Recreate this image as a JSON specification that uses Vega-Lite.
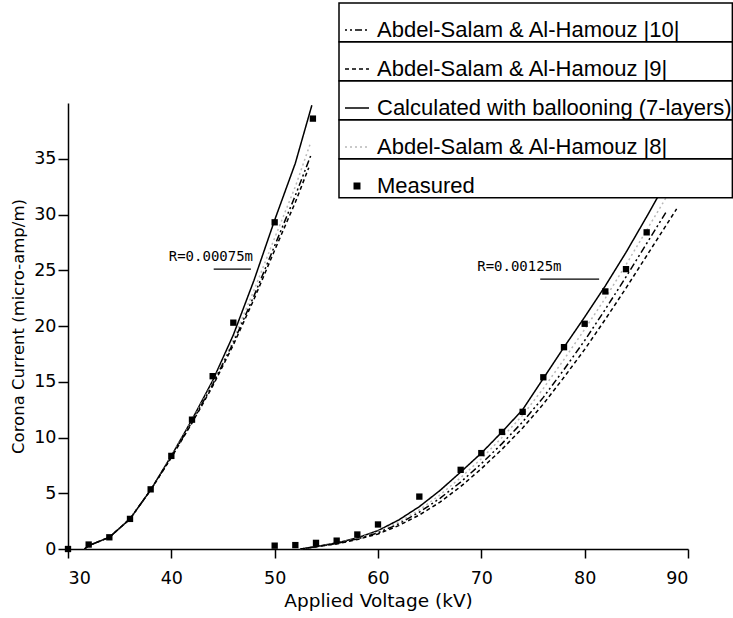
{
  "$schema": "https://vega.github.io/schema/vega-lite/v6.json",
  "width": 620,
  "height": 446,
  "autosize": "none",
  "padding": {"left": 68, "top": 103, "right": 45, "bottom": 69},
  "background": "white",
  "config": {
    "view": {"stroke": null},
    "axis": {
      "grid": false,
      "domainColor": "black",
      "domainWidth": 1.5,
      "tickColor": "black",
      "tickWidth": 1.5,
      "labelColor": "black",
      "titleColor": "black",
      "labelFont": "DejaVu Sans",
      "titleFont": "DejaVu Sans",
      "labelFontSize": 17.5,
      "titleFontWeight": "normal"
    }
  },
  "datasets": {
    "curves": [
      {"series": "Calculated with ballooning (7-layers)", "grp": "L", "v": 31.6, "i": 0},
      {"series": "Calculated with ballooning (7-layers)", "grp": "L", "v": 32, "i": 0.3},
      {"series": "Calculated with ballooning (7-layers)", "grp": "L", "v": 34, "i": 1.05},
      {"series": "Calculated with ballooning (7-layers)", "grp": "L", "v": 36, "i": 2.7},
      {"series": "Calculated with ballooning (7-layers)", "grp": "L", "v": 38, "i": 5.3},
      {"series": "Calculated with ballooning (7-layers)", "grp": "L", "v": 40, "i": 8.35},
      {"series": "Calculated with ballooning (7-layers)", "grp": "L", "v": 42, "i": 11.6},
      {"series": "Calculated with ballooning (7-layers)", "grp": "L", "v": 44, "i": 15.1},
      {"series": "Calculated with ballooning (7-layers)", "grp": "L", "v": 46, "i": 19.2},
      {"series": "Calculated with ballooning (7-layers)", "grp": "L", "v": 48, "i": 24.1},
      {"series": "Calculated with ballooning (7-layers)", "grp": "L", "v": 50, "i": 29.5},
      {"series": "Calculated with ballooning (7-layers)", "grp": "L", "v": 52, "i": 34.6},
      {"series": "Calculated with ballooning (7-layers)", "grp": "L", "v": 53.6, "i": 39.8},
      {"series": "Abdel-Salam & Al-Hamouz |8|", "grp": "L", "v": 31.6, "i": 0},
      {"series": "Abdel-Salam & Al-Hamouz |8|", "grp": "L", "v": 32, "i": 0.3},
      {"series": "Abdel-Salam & Al-Hamouz |8|", "grp": "L", "v": 34, "i": 1.05},
      {"series": "Abdel-Salam & Al-Hamouz |8|", "grp": "L", "v": 36, "i": 2.7},
      {"series": "Abdel-Salam & Al-Hamouz |8|", "grp": "L", "v": 38, "i": 5.3},
      {"series": "Abdel-Salam & Al-Hamouz |8|", "grp": "L", "v": 40, "i": 8.3},
      {"series": "Abdel-Salam & Al-Hamouz |8|", "grp": "L", "v": 42, "i": 11.5},
      {"series": "Abdel-Salam & Al-Hamouz |8|", "grp": "L", "v": 44, "i": 14.9},
      {"series": "Abdel-Salam & Al-Hamouz |8|", "grp": "L", "v": 46, "i": 18.8},
      {"series": "Abdel-Salam & Al-Hamouz |8|", "grp": "L", "v": 48, "i": 23.2},
      {"series": "Abdel-Salam & Al-Hamouz |8|", "grp": "L", "v": 50, "i": 27.9},
      {"series": "Abdel-Salam & Al-Hamouz |8|", "grp": "L", "v": 52, "i": 32.5},
      {"series": "Abdel-Salam & Al-Hamouz |8|", "grp": "L", "v": 53.5, "i": 36.5},
      {"series": "Abdel-Salam & Al-Hamouz |10|", "grp": "L", "v": 31.6, "i": 0},
      {"series": "Abdel-Salam & Al-Hamouz |10|", "grp": "L", "v": 32, "i": 0.3},
      {"series": "Abdel-Salam & Al-Hamouz |10|", "grp": "L", "v": 34, "i": 1.05},
      {"series": "Abdel-Salam & Al-Hamouz |10|", "grp": "L", "v": 36, "i": 2.7},
      {"series": "Abdel-Salam & Al-Hamouz |10|", "grp": "L", "v": 38, "i": 5.3},
      {"series": "Abdel-Salam & Al-Hamouz |10|", "grp": "L", "v": 40, "i": 8.25},
      {"series": "Abdel-Salam & Al-Hamouz |10|", "grp": "L", "v": 42, "i": 11.4},
      {"series": "Abdel-Salam & Al-Hamouz |10|", "grp": "L", "v": 44, "i": 14.75},
      {"series": "Abdel-Salam & Al-Hamouz |10|", "grp": "L", "v": 46, "i": 18.5},
      {"series": "Abdel-Salam & Al-Hamouz |10|", "grp": "L", "v": 48, "i": 22.7},
      {"series": "Abdel-Salam & Al-Hamouz |10|", "grp": "L", "v": 50, "i": 27.2},
      {"series": "Abdel-Salam & Al-Hamouz |10|", "grp": "L", "v": 52, "i": 31.7},
      {"series": "Abdel-Salam & Al-Hamouz |10|", "grp": "L", "v": 53.5, "i": 35.3},
      {"series": "Abdel-Salam & Al-Hamouz |9|", "grp": "L", "v": 31.6, "i": 0},
      {"series": "Abdel-Salam & Al-Hamouz |9|", "grp": "L", "v": 32, "i": 0.3},
      {"series": "Abdel-Salam & Al-Hamouz |9|", "grp": "L", "v": 34, "i": 1.05},
      {"series": "Abdel-Salam & Al-Hamouz |9|", "grp": "L", "v": 36, "i": 2.7},
      {"series": "Abdel-Salam & Al-Hamouz |9|", "grp": "L", "v": 38, "i": 5.3},
      {"series": "Abdel-Salam & Al-Hamouz |9|", "grp": "L", "v": 40, "i": 8.2},
      {"series": "Abdel-Salam & Al-Hamouz |9|", "grp": "L", "v": 42, "i": 11.3},
      {"series": "Abdel-Salam & Al-Hamouz |9|", "grp": "L", "v": 44, "i": 14.6},
      {"series": "Abdel-Salam & Al-Hamouz |9|", "grp": "L", "v": 46, "i": 18.3},
      {"series": "Abdel-Salam & Al-Hamouz |9|", "grp": "L", "v": 48, "i": 22.4},
      {"series": "Abdel-Salam & Al-Hamouz |9|", "grp": "L", "v": 50, "i": 26.8},
      {"series": "Abdel-Salam & Al-Hamouz |9|", "grp": "L", "v": 52, "i": 31.1},
      {"series": "Abdel-Salam & Al-Hamouz |9|", "grp": "L", "v": 53.3, "i": 34.2},
      {"series": "Calculated with ballooning (7-layers)", "grp": "R", "v": 52.5, "i": 0},
      {"series": "Calculated with ballooning (7-layers)", "grp": "R", "v": 54, "i": 0.22},
      {"series": "Calculated with ballooning (7-layers)", "grp": "R", "v": 56, "i": 0.55},
      {"series": "Calculated with ballooning (7-layers)", "grp": "R", "v": 58, "i": 1.0},
      {"series": "Calculated with ballooning (7-layers)", "grp": "R", "v": 60, "i": 1.65},
      {"series": "Calculated with ballooning (7-layers)", "grp": "R", "v": 62, "i": 2.6},
      {"series": "Calculated with ballooning (7-layers)", "grp": "R", "v": 64, "i": 3.8},
      {"series": "Calculated with ballooning (7-layers)", "grp": "R", "v": 66, "i": 5.25},
      {"series": "Calculated with ballooning (7-layers)", "grp": "R", "v": 68, "i": 6.9},
      {"series": "Calculated with ballooning (7-layers)", "grp": "R", "v": 70, "i": 8.6},
      {"series": "Calculated with ballooning (7-layers)", "grp": "R", "v": 72, "i": 10.5},
      {"series": "Calculated with ballooning (7-layers)", "grp": "R", "v": 74, "i": 12.5},
      {"series": "Calculated with ballooning (7-layers)", "grp": "R", "v": 76, "i": 15.3},
      {"series": "Calculated with ballooning (7-layers)", "grp": "R", "v": 78, "i": 18.1},
      {"series": "Calculated with ballooning (7-layers)", "grp": "R", "v": 80, "i": 20.8},
      {"series": "Calculated with ballooning (7-layers)", "grp": "R", "v": 82, "i": 23.6},
      {"series": "Calculated with ballooning (7-layers)", "grp": "R", "v": 84, "i": 26.6},
      {"series": "Calculated with ballooning (7-layers)", "grp": "R", "v": 86, "i": 29.8},
      {"series": "Calculated with ballooning (7-layers)", "grp": "R", "v": 88, "i": 33.1},
      {"series": "Abdel-Salam & Al-Hamouz |8|", "grp": "R", "v": 52.5, "i": 0},
      {"series": "Abdel-Salam & Al-Hamouz |8|", "grp": "R", "v": 54, "i": 0.22},
      {"series": "Abdel-Salam & Al-Hamouz |8|", "grp": "R", "v": 56, "i": 0.52},
      {"series": "Abdel-Salam & Al-Hamouz |8|", "grp": "R", "v": 58, "i": 0.95},
      {"series": "Abdel-Salam & Al-Hamouz |8|", "grp": "R", "v": 60, "i": 1.55},
      {"series": "Abdel-Salam & Al-Hamouz |8|", "grp": "R", "v": 62, "i": 2.4},
      {"series": "Abdel-Salam & Al-Hamouz |8|", "grp": "R", "v": 64, "i": 3.5},
      {"series": "Abdel-Salam & Al-Hamouz |8|", "grp": "R", "v": 66, "i": 4.85},
      {"series": "Abdel-Salam & Al-Hamouz |8|", "grp": "R", "v": 68, "i": 6.4},
      {"series": "Abdel-Salam & Al-Hamouz |8|", "grp": "R", "v": 70, "i": 8.1},
      {"series": "Abdel-Salam & Al-Hamouz |8|", "grp": "R", "v": 72, "i": 10.0},
      {"series": "Abdel-Salam & Al-Hamouz |8|", "grp": "R", "v": 74, "i": 12.0},
      {"series": "Abdel-Salam & Al-Hamouz |8|", "grp": "R", "v": 76, "i": 14.4},
      {"series": "Abdel-Salam & Al-Hamouz |8|", "grp": "R", "v": 78, "i": 17.0},
      {"series": "Abdel-Salam & Al-Hamouz |8|", "grp": "R", "v": 80, "i": 19.7},
      {"series": "Abdel-Salam & Al-Hamouz |8|", "grp": "R", "v": 82, "i": 22.5},
      {"series": "Abdel-Salam & Al-Hamouz |8|", "grp": "R", "v": 84, "i": 25.5},
      {"series": "Abdel-Salam & Al-Hamouz |8|", "grp": "R", "v": 86, "i": 28.6},
      {"series": "Abdel-Salam & Al-Hamouz |8|", "grp": "R", "v": 88, "i": 31.7},
      {"series": "Abdel-Salam & Al-Hamouz |10|", "grp": "R", "v": 52.5, "i": 0},
      {"series": "Abdel-Salam & Al-Hamouz |10|", "grp": "R", "v": 54, "i": 0.2},
      {"series": "Abdel-Salam & Al-Hamouz |10|", "grp": "R", "v": 56, "i": 0.5},
      {"series": "Abdel-Salam & Al-Hamouz |10|", "grp": "R", "v": 58, "i": 0.9},
      {"series": "Abdel-Salam & Al-Hamouz |10|", "grp": "R", "v": 60, "i": 1.45},
      {"series": "Abdel-Salam & Al-Hamouz |10|", "grp": "R", "v": 62, "i": 2.25},
      {"series": "Abdel-Salam & Al-Hamouz |10|", "grp": "R", "v": 64, "i": 3.3},
      {"series": "Abdel-Salam & Al-Hamouz |10|", "grp": "R", "v": 66, "i": 4.55},
      {"series": "Abdel-Salam & Al-Hamouz |10|", "grp": "R", "v": 68, "i": 6.0},
      {"series": "Abdel-Salam & Al-Hamouz |10|", "grp": "R", "v": 70, "i": 7.65},
      {"series": "Abdel-Salam & Al-Hamouz |10|", "grp": "R", "v": 72, "i": 9.45},
      {"series": "Abdel-Salam & Al-Hamouz |10|", "grp": "R", "v": 74, "i": 11.4},
      {"series": "Abdel-Salam & Al-Hamouz |10|", "grp": "R", "v": 76, "i": 13.6},
      {"series": "Abdel-Salam & Al-Hamouz |10|", "grp": "R", "v": 78, "i": 16.1},
      {"series": "Abdel-Salam & Al-Hamouz |10|", "grp": "R", "v": 80, "i": 18.7},
      {"series": "Abdel-Salam & Al-Hamouz |10|", "grp": "R", "v": 82, "i": 21.5},
      {"series": "Abdel-Salam & Al-Hamouz |10|", "grp": "R", "v": 84, "i": 24.4},
      {"series": "Abdel-Salam & Al-Hamouz |10|", "grp": "R", "v": 86, "i": 27.4},
      {"series": "Abdel-Salam & Al-Hamouz |10|", "grp": "R", "v": 88, "i": 30.4},
      {"series": "Abdel-Salam & Al-Hamouz |9|", "grp": "R", "v": 52.5, "i": 0},
      {"series": "Abdel-Salam & Al-Hamouz |9|", "grp": "R", "v": 54, "i": 0.2},
      {"series": "Abdel-Salam & Al-Hamouz |9|", "grp": "R", "v": 56, "i": 0.45},
      {"series": "Abdel-Salam & Al-Hamouz |9|", "grp": "R", "v": 58, "i": 0.85},
      {"series": "Abdel-Salam & Al-Hamouz |9|", "grp": "R", "v": 60, "i": 1.35},
      {"series": "Abdel-Salam & Al-Hamouz |9|", "grp": "R", "v": 62, "i": 2.1},
      {"series": "Abdel-Salam & Al-Hamouz |9|", "grp": "R", "v": 64, "i": 3.05},
      {"series": "Abdel-Salam & Al-Hamouz |9|", "grp": "R", "v": 66, "i": 4.2},
      {"series": "Abdel-Salam & Al-Hamouz |9|", "grp": "R", "v": 68, "i": 5.6},
      {"series": "Abdel-Salam & Al-Hamouz |9|", "grp": "R", "v": 70, "i": 7.2},
      {"series": "Abdel-Salam & Al-Hamouz |9|", "grp": "R", "v": 72, "i": 8.95},
      {"series": "Abdel-Salam & Al-Hamouz |9|", "grp": "R", "v": 74, "i": 10.85},
      {"series": "Abdel-Salam & Al-Hamouz |9|", "grp": "R", "v": 76, "i": 13.0},
      {"series": "Abdel-Salam & Al-Hamouz |9|", "grp": "R", "v": 78, "i": 15.4},
      {"series": "Abdel-Salam & Al-Hamouz |9|", "grp": "R", "v": 80, "i": 17.9},
      {"series": "Abdel-Salam & Al-Hamouz |9|", "grp": "R", "v": 82, "i": 20.6},
      {"series": "Abdel-Salam & Al-Hamouz |9|", "grp": "R", "v": 84, "i": 23.4},
      {"series": "Abdel-Salam & Al-Hamouz |9|", "grp": "R", "v": 86, "i": 26.3},
      {"series": "Abdel-Salam & Al-Hamouz |9|", "grp": "R", "v": 88, "i": 29.2},
      {"series": "Abdel-Salam & Al-Hamouz |9|", "grp": "R", "v": 88.9, "i": 30.5}
    ],
    "measured": [
      {"series": "Measured", "v": 30, "i": 0},
      {"series": "Measured", "v": 32, "i": 0.4},
      {"series": "Measured", "v": 34, "i": 1.05},
      {"series": "Measured", "v": 36, "i": 2.7},
      {"series": "Measured", "v": 38, "i": 5.35},
      {"series": "Measured", "v": 40, "i": 8.35},
      {"series": "Measured", "v": 42, "i": 11.6},
      {"series": "Measured", "v": 44, "i": 15.5},
      {"series": "Measured", "v": 46, "i": 20.3},
      {"series": "Measured", "v": 50, "i": 29.3},
      {"series": "Measured", "v": 53.7, "i": 38.6},
      {"series": "Measured", "v": 50, "i": 0.3},
      {"series": "Measured", "v": 52, "i": 0.35},
      {"series": "Measured", "v": 54, "i": 0.55},
      {"series": "Measured", "v": 56, "i": 0.75},
      {"series": "Measured", "v": 58, "i": 1.3},
      {"series": "Measured", "v": 60, "i": 2.2},
      {"series": "Measured", "v": 64, "i": 4.7},
      {"series": "Measured", "v": 68, "i": 7.1},
      {"series": "Measured", "v": 70, "i": 8.6},
      {"series": "Measured", "v": 72, "i": 10.5},
      {"series": "Measured", "v": 74, "i": 12.3},
      {"series": "Measured", "v": 76, "i": 15.4},
      {"series": "Measured", "v": 78, "i": 18.1},
      {"series": "Measured", "v": 80, "i": 20.2},
      {"series": "Measured", "v": 82, "i": 23.1},
      {"series": "Measured", "v": 84, "i": 25.1},
      {"series": "Measured", "v": 86, "i": 28.4}
    ],
    "notes": [
      {"label": "R=0.00075m", "v": 39.75, "i": 25.85, "v2": 44.1, "v3": 47.7, "iu": 25.1},
      {"label": "R=0.00125m", "v": 69.6, "i": 24.9, "v2": 75.7, "v3": 81.4, "iu": 24.2}
    ]
  },
  "encoding": {
    "x": {
      "field": "v", "type": "quantitative",
      "scale": {"domain": [30, 90], "nice": false, "zero": false},
      "axis": {"values": [30, 40, 50, 60, 70, 80, 90], "tickSize": 9, "labelPadding": 11, "title": "Applied Voltage (kV)", "titleFontSize": 18.5, "titlePadding": 5}
    },
    "y": {
      "field": "i", "type": "quantitative",
      "scale": {"domain": [0, 40], "nice": false},
      "axis": {"values": [0, 5, 10, 15, 20, 25, 30, 35], "tickSize": 10, "labelPadding": 2, "title": "Corona Current (micro-amp/m)", "titleFontSize": 16.5, "titlePadding": 7}
    }
  },
  "layer": [
    {
      "data": {"name": "curves"},
      "mark": {"type": "line", "strokeWidth": 1.5},
      "encoding": {
        "detail": {"field": "grp"},
        "color": {
          "field": "series", "type": "nominal",
          "scale": {
            "domain": ["Abdel-Salam & Al-Hamouz |10|", "Abdel-Salam & Al-Hamouz |9|", "Calculated with ballooning (7-layers)", "Abdel-Salam & Al-Hamouz |8|", "Measured"],
            "range": ["black", "black", "black", "#b8b8b8", "black"]
          },
          "legend": {
            "orient": "none", "legendX": 271, "legendY": -100,
            "title": null, "direction": "vertical", "columns": 1,
            "fillColor": "white",
            "padding": 0, "rowPadding": 0,
            "labelFont": "Liberation Sans", "labelFontSize": 22, "labelColor": "black",
            "labelOffset": 6, "labelLimit": 600,
            "symbolType": "stroke", "symbolSize": 576, "symbolStrokeWidth": 1.5,
            "encode": {
              "entries": {"update": {
                "stroke": {"value": "black"},
                "fill": {"value": "white"},
                "strokeWidth": {"value": 1.5},
                "width": {"value": 393}
              }},
              "symbols": {"update": {
                "x": {"value": 18},
                "y": {"value": 27},
                "shape": {"signal": "datum.value === 'Measured' ? 'square' : 'stroke'"},
                "size": {"signal": "datum.value === 'Measured' ? 30 : 576"},
                "fill": {"signal": "datum.value === 'Measured' ? 'black' : 'transparent'"},
                "stroke": {"signal": "datum.value === 'Measured' ? 'transparent' : (datum.value === 'Abdel-Salam & Al-Hamouz |8|' ? '#b8b8b8' : 'black')"},
                "strokeDash": {"signal": "datum.value === 'Abdel-Salam & Al-Hamouz |10|' ? [2,3,2,3,7,3] : (datum.value === 'Abdel-Salam & Al-Hamouz |9|' ? [4,3] : (datum.value === 'Abdel-Salam & Al-Hamouz |8|' ? [2,3] : [1,0]))"},
                "strokeWidth": {"value": 1.5},
                "opacity": {"value": 1}
              }},
              "labels": {"update": {
                "x": {"value": 38},
                "y": {"value": 27},
                "align": {"value": "left"},
                "baseline": {"value": "middle"}
              }}
            }
          }
        },
        "strokeDash": {
          "field": "series", "type": "nominal",
          "scale": {
            "domain": ["Abdel-Salam & Al-Hamouz |10|", "Abdel-Salam & Al-Hamouz |9|", "Calculated with ballooning (7-layers)", "Abdel-Salam & Al-Hamouz |8|"],
            "range": [[2, 3, 2, 3, 7, 3], [4, 3], [1, 0], [2, 3]]
          },
          "legend": null
        }
      }
    },
    {
      "data": {"name": "measured"},
      "mark": {"type": "square", "filled": true, "size": 40, "opacity": 1},
      "encoding": {
        "color": {"field": "series", "type": "nominal"}
      }
    },
    {
      "data": {"name": "notes"},
      "mark": {"type": "rule", "strokeWidth": 1.3, "color": "black"},
      "encoding": {
        "x": {"field": "v2", "type": "quantitative"},
        "x2": {"field": "v3"},
        "y": {"field": "iu", "type": "quantitative"}
      }
    },
    {
      "data": {"name": "notes"},
      "mark": {"type": "text", "align": "left", "baseline": "alphabetic", "font": "DejaVu Sans Mono", "fontSize": 14, "color": "black"},
      "encoding": {
        "text": {"field": "label"}
      }
    }
  ]
}
